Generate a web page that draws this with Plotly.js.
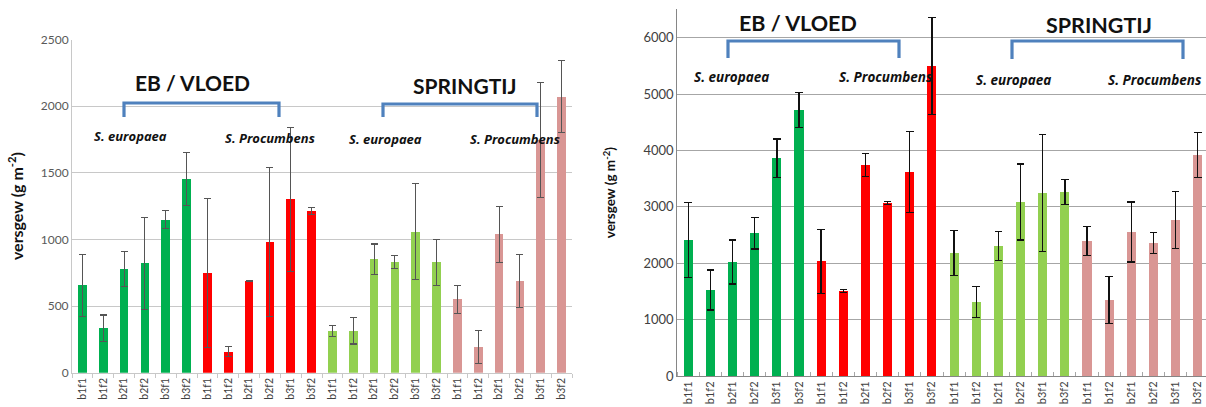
<!DOCTYPE html>
<html>
<head>
<meta charset="utf-8">
<script src="https://cdn.plot.ly/plotly-3.0.1.min.js"></script>
<style>
html,body{margin:0;padding:0;background:#fff;overflow:hidden;}
#chart{width:1210px;height:407px;}
</style>
</head>
<body>
<div id="chart"></div>
<script>
// ---- data ----
const categories = ["b1f1","b1f2","b2f1","b2f2","b3f1","b3f2",
                    "b1f1","b1f2","b2f1","b2f2","b3f1","b3f2",
                    "b1f1","b1f2","b2f1","b2f2","b3f1","b3f2",
                    "b1f1","b1f2","b2f1","b2f2","b3f1","b3f2"];
const groupColors = ["#00b050","#ff0000","#92d050","#d99694"];
const leftValues = [655,333,778,820,1148,1455, 750,158,690,983,1300,1213,
                    313,313,853,830,1058,828, 550,193,1040,688,1745,2070];
const leftErrors = [235,100,132,345,67,200, 560,37,5,560,540,27,
                    42,98,113,47,360,173, 104,122,210,200,430,270];
const rightValues = [2411,1525,2021,2535,3860,4716, 2034,1507,3741,3067,3617,5496,
                     2181,1312,2305,3085,3245,3262, 2394,1347,2553,2358,2766,3918];
const rightErrors = [665,355,393,280,340,307, 568,30,200,25,720,860,
                     400,270,260,675,1040,225, 255,420,530,190,510,395];
const yTitle = "<b>versgew (g m<sup>-2</sup>)</b>";
const tideLabels = ["EB / VLOED","SPRINGTIJ"];
const speciesLabels = ["S. europaea","S. Procumbens"];

// ---- layout helpers ----
const W = 1210, H = 407;
const px = v => v / W;
const py = v => 1 - v / H;
const xs = categories.map((_, i) => i);
const colors = categories.map((_, i) => groupColors[Math.floor(i / 6)]);
const FONT = "Lato, 'Open Sans', sans-serif";
const SPFONT = "'Open Sans', Lato, sans-serif";

const traces = [
  {type:"bar", x:xs, y:leftValues, xaxis:"x", yaxis:"y", width:0.42,
   marker:{color:colors},
   error_y:{type:"data", array:leftErrors, visible:true, color:"#555555", thickness:1.1, width:3.5},
   hoverinfo:"y"},
  {type:"bar", x:xs, y:rightValues, xaxis:"x2", yaxis:"y2", width:0.41,
   marker:{color:colors},
   error_y:{type:"data", array:rightErrors, visible:true, color:"#111111", thickness:1.4, width:3.8},
   hoverinfo:"y"}
];

function xAxis(domain, opts) {
  return Object.assign({
    domain: domain, range:[-0.5, 23.5], tickmode:"array", tickvals:xs, ticktext:categories,
    tickangle:-90, ticks:"", showgrid:false, zeroline:false, showline:true,
    fixedrange:true
  }, opts);
}

const annotations = [];
const shapes = [];
function addGroup(cx, cy, label, size, x1, x2, yTop, yBot, sp) {
  annotations.push({xref:"paper", yref:"paper", x:px(cx), y:py(cy), text:"<b>"+label+"</b>",
    showarrow:false, xanchor:"center", yanchor:"middle",
    font:{family:FONT, size:size, color:"#111111"}});
  shapes.push({type:"path", xref:"paper", yref:"paper",
    path:`M ${px(x1)},${py(yBot)} L ${px(x1)},${py(yTop)} L ${px(x2)},${py(yTop)} L ${px(x2)},${py(yBot)}`,
    line:{color:"#4f81bd", width:3.2}});
  sp.forEach((s, k) => annotations.push({xref:"paper", yref:"paper", x:px(s[0]), y:py(s[1]),
    text:"<b><i>"+speciesLabels[k]+"</i></b>", showarrow:false, xanchor:"center", yanchor:"middle",
    font:{family:SPFONT, size:s[2], color:"#111111"}}));
}
// left panel
addGroup(192.5, 82, tideLabels[0], 21, 124, 279, 103, 117, [[130.5,136,13],[269.5,137.5,13]]);
addGroup(465, 86, tideLabels[1], 21, 383, 537, 104, 117, [[385.5,139,13],[514.7,139,13]]);
// right panel
addGroup(798, 23, tideLabels[0], 21.5, 728, 899, 41, 58, [[731.7,77,13.5],[885.5,77,13.5]]);
addGroup(1098.7, 25, tideLabels[1], 21.5, 1012, 1183, 41, 59, [[1013.8,80,13.5],[1155.3,80,13.5]]);

const layout = {
  width:W, height:H, margin:{l:0, r:0, t:0, b:0},
  paper_bgcolor:"#ffffff", plot_bgcolor:"rgba(0,0,0,0)",
  showlegend:false, bargap:0,
  font:{family:FONT, color:"#595959"},
  xaxis: xAxis([px(72), px(572)], {anchor:"y", linecolor:"#c8c8c8", linewidth:1,
    tickfont:{family:FONT, size:10.5, color:"#404040"},
    minor:{tick0:-0.5, dtick:1, ticks:"outside", ticklen:4, tickcolor:"#c8c8c8", showgrid:false}}),
  yaxis: {domain:[py(372.7), py(39.5)], range:[0,2500], dtick:500, anchor:"x",
    showgrid:true, gridcolor:"#c8c8c8", gridwidth:1, zeroline:false,
    showline:true, linecolor:"#c8c8c8", ticks:"", fixedrange:true,
    tickfont:{family:FONT, size:12, color:"#595959"},
    title:{text:yTitle, standoff:13, font:{family:FONT, size:16, color:"#111111"}}},
  xaxis2: xAxis([px(677.2), px(1208.8)], {anchor:"y2", linecolor:"#868686", linewidth:1,
    tickfont:{family:FONT, size:11, color:"#404040"},
    minor:{tick0:-0.5, dtick:1, ticks:"inside", ticklen:4, tickcolor:"#a6a6a6", showgrid:false}}),
  yaxis2: {domain:[py(376), py(9.4)], range:[0,6500], tickvals:[0,1000,2000,3000,4000,5000,6000], anchor:"x2",
    showgrid:true, gridcolor:"#a6a6a6", gridwidth:1, zeroline:false,
    showline:true, linecolor:"#868686", ticks:"", fixedrange:true,
    tickfont:{family:FONT, size:13, color:"#404040"},
    title:{text:yTitle, standoff:24, font:{family:FONT, size:13.5, color:"#111111"}}},
  annotations: annotations,
  shapes: shapes
};

Plotly.newPlot("chart", traces, layout, {displayModeBar:false, staticPlot:true});
</script>
</body>
</html>
